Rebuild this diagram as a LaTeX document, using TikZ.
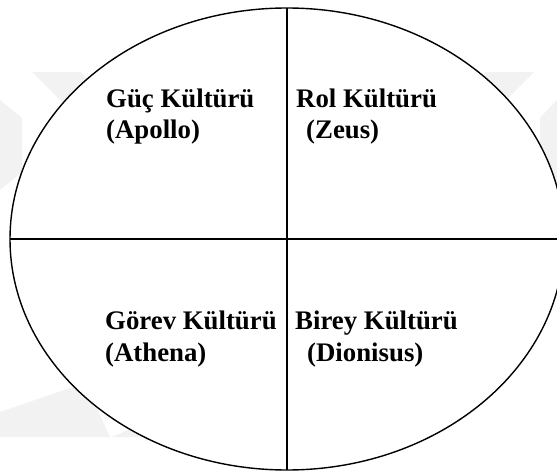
\documentclass[tikz,border=0pt]{standalone}
\usepackage{fontspec}
\setmainfont{Liberation Serif}
\begin{document}
\begin{tikzpicture}[x=1pt,y=-1pt,
  wmark/.style={fill=black!5,draw=none},
  lbl/.style={anchor=base west,inner sep=0pt,font=\fontsize{26.8}{31}\selectfont\bfseries},
  divider/.style={line width=1.4pt,black}]
\useasboundingbox (0,0) rectangle (557,473);
\fill[white] (0,0) rectangle (557,473);
\begin{scope}
\clip (0,0) rectangle (557,473);
% faint watermark
\fill[wmark] (32,72) -- (80,72) -- (250,242) -- (202,242) -- cycle;
\fill[wmark] (534,72) -- (486,72) -- (316,242) -- (364,242) -- cycle;
\fill[wmark] (0,100) -- (22,118) -- (22,172) -- (0,190) -- cycle;
\fill[wmark] (557,100) -- (540,118) -- (540,195) -- (557,210) -- cycle;
\fill[wmark] (0,412) -- (85,383) -- (110,437) -- (0,437) -- cycle;
\fill[wmark] (112,437) -- (140,425) -- (150,437) -- cycle;
% ellipse
\draw[divider,fill=white] (287,239) ellipse [x radius=277, y radius=231];
\end{scope}
\coordinate (top) at (287,8);
\coordinate (bottom) at (287,470);
\coordinate (left) at (10,239);
\coordinate (right) at (557,239);
\draw[divider] (top) -- (bottom);
\draw[divider] (left) -- (right);
\node[lbl] (guc) at (106,108) {Güç Kültürü};
\node[lbl] (apollo) at (106,139) {(Apollo)};
\node[lbl] (rol) at (296,108) {Rol Kültürü};
\node[lbl] (zeus) at (306,139) {(Zeus)};
\node[lbl] (gorev) at (105,329) {Görev Kültürü};
\node[lbl] (athena) at (105,361) {(Athena)};
\node[lbl] (birey) at (295,329) {Birey Kültürü};
\node[lbl] (dionisus) at (307,361) {(Dionisus)};
\end{tikzpicture}
\end{document}
